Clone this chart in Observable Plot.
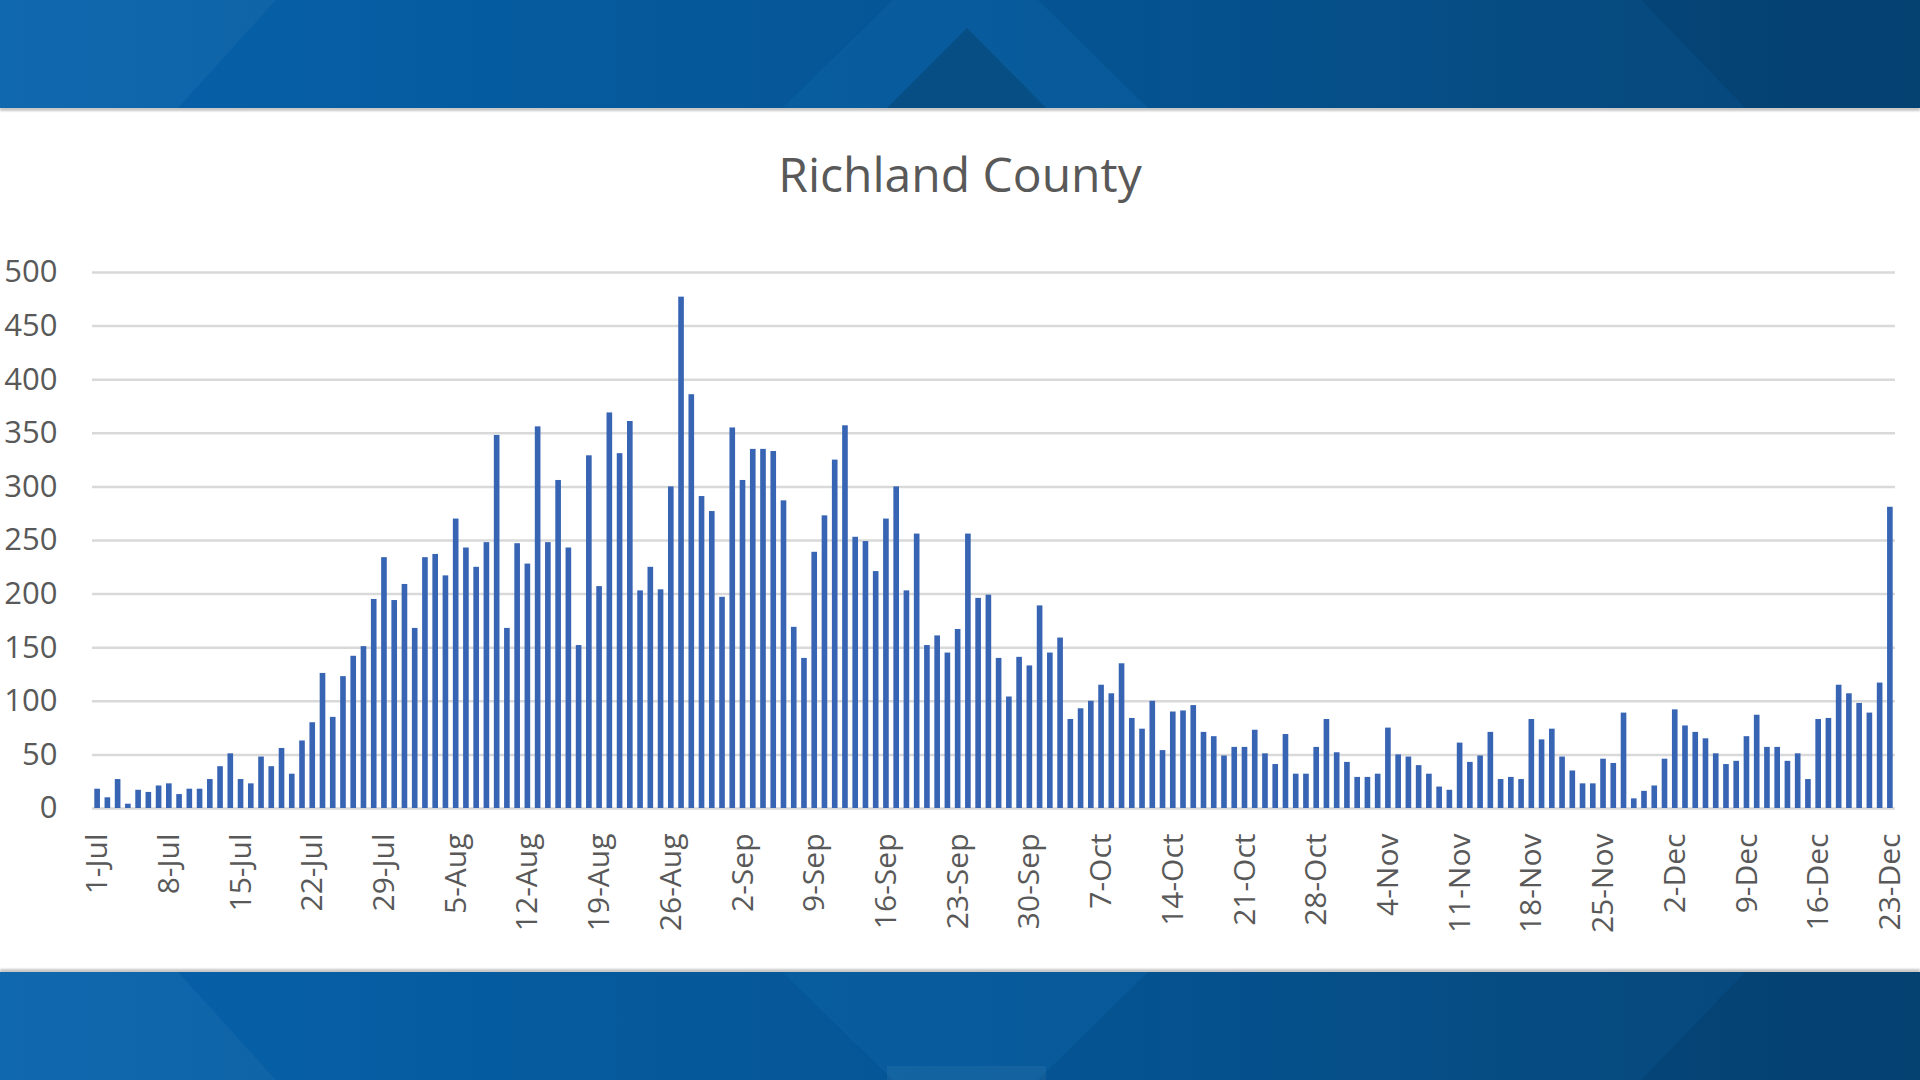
<!DOCTYPE html>
<html>
<head>
<meta charset="utf-8">
<script src="https://cdn.jsdelivr.net/npm/d3@7"></script>
<script src="https://cdn.jsdelivr.net/npm/@observablehq/plot@0.6"></script>
<style>
  html, body { margin: 0; padding: 0; background: #ffffff; }
  body { width: 1920px; height: 1080px; position: relative; overflow: hidden; font-family: "Open Sans", sans-serif; }
  .banner { position: absolute; left: 0; width: 1920px; height: 108px; overflow: hidden;
            background: linear-gradient(90deg, #0762ab 0%, #05599b 35%, #055290 60%, #064c82 80%, #06467a 100%); }
  .banner.top { top: 0; box-shadow: 0 3px 2px #c8c8c8; }
  .banner.bottom { top: 972px; transform: scaleY(-1); box-shadow: 0 3px 2px #c8c8c8; }
  .shape { position: absolute; left: 0; top: 0; width: 1920px; height: 108px; }
  .light { background: rgba(20, 110, 180, 0.25); clip-path: polygon(893px 0, 1038px 0, 1148px 108px, 782px 108px); }
  .dark { background: #074e84; clip-path: polygon(967px 28px, 1046px 108px, 887px 108px); }
  .leftlight { background: rgba(255,255,255,0.04); clip-path: polygon(0 0, 276px 0, 178px 108px, 0 108px); }
  .rightdark { background: rgba(0,0,0,0.07); clip-path: polygon(1641px 0, 1920px 0, 1920px 108px, 1745px 108px); }
  .tab { background: rgba(255,255,255,0.05); clip-path: polygon(887px 0, 1046px 0, 1046px 14px, 887px 14px); }
  #title { position: absolute; left: 0; width: 1920px; top: 150px; text-align: center;
           font-family: "Open Sans", sans-serif; font-size: 48px; line-height: 48px; color: #595959; }
  #chart { position: absolute; left: 0; top: 230px; }
</style>
</head>
<body>
<div class="banner top">
  <div class="shape leftlight"></div>
  <div class="shape rightdark"></div>
  <div class="shape light"></div>
  <div class="shape dark"></div>
</div>
<div id="title">Richland County</div>
<div id="chart"></div>
<div class="banner bottom">
  <div class="shape leftlight"></div>
  <div class="shape rightdark"></div>
  <div class="shape light"></div>
  <div class="shape tab"></div>
</div>
<script>
// Daily values, one array per month
const monthNames = ["Jul", "Aug", "Sep", "Oct", "Nov", "Dec"];
const julCases = [18,10,27,4,17,15,21,23,13,18,18,27,39,51,27,23,48,39,56,32,63,80,126,85,123,142,151,195,234,194,209];
const augCases = [168,234,237,217,270,243,225,248,348,168,247,228,356,248,306,243,152,329,207,369,331,361,203,225,204,300,477,386,291,277,197];
const sepCases = [355,306,335,335,333,287,169,140,239,273,325,357,253,249,221,270,300,203,256,152,161,145,167,256,196,199,140,104,141,133];
const octCases = [189,145,159,83,93,100,115,107,135,84,74,100,54,90,91,96,71,67,49,57,57,73,51,41,69,32,32,57,83,52,43];
const novCases = [29,29,32,75,50,48,40,32,20,17,61,43,49,71,27,29,27,83,64,74,48,35,23,23,46,42,89,9,16,21];
const decCases = [46,92,77,71,65,51,41,44,67,87,57,57,44,51,27,83,84,115,107,98,89,117,281];

const tickLabels = ["1-Jul","8-Jul","15-Jul","22-Jul","29-Jul","5-Aug","12-Aug","19-Aug","26-Aug",
  "2-Sep","9-Sep","16-Sep","23-Sep","30-Sep","7-Oct","14-Oct","21-Oct","28-Oct",
  "4-Nov","11-Nov","18-Nov","25-Nov","2-Dec","9-Dec","16-Dec","23-Dec"];
const yTicks = [0,50,100,150,200,250,300,350,400,450,500];

const monthly = [julCases, augCases, sepCases, octCases, novCases, decCases];
const data = [];
monthly.forEach((arr, m) => arr.forEach((v, i) => data.push({day: `${i + 1}-${monthNames[m]}`, cases: v})));
const days = data.map(d => d.day);

const chart = Plot.plot({
  width: 1920,
  height: 730,
  marginLeft: 92,
  marginRight: 25,
  marginTop: 42,
  marginBottom: 152,
  style: {fontFamily: "Open Sans, sans-serif", color: "#595959", background: "transparent", overflow: "visible"},
  x: {domain: days, paddingInner: 0.45, paddingOuter: 0.225, label: null},
  y: {domain: [0, 500], label: null},
  marks: [
    Plot.gridY(yTicks, {stroke: "#d9d9d9", strokeOpacity: 1, strokeWidth: 2.5}),
    Plot.barY(data, {x: "day", y: "cases", fill: "#3864b4"}),
    Plot.axisY(yTicks, {tickSize: 0, tickPadding: 35, fontSize: 31, fill: "#595959", label: null}),
    Plot.axisX(tickLabels, {tickSize: 0, tickRotate: -90, tickPadding: 25, fontSize: 30, fill: "#595959", label: null})
  ]
});
document.getElementById("chart").appendChild(chart);
</script>
</body>
</html>
